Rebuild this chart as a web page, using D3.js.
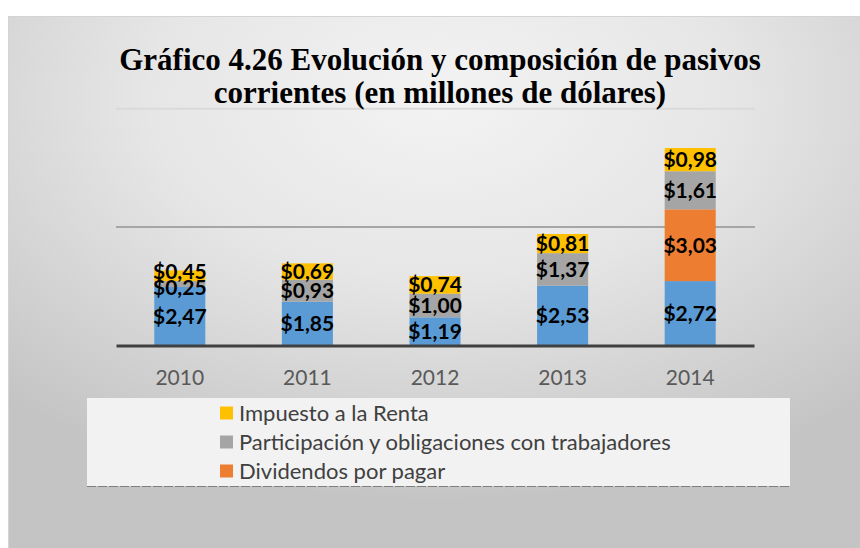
<!DOCTYPE html>
<html>
<head>
<meta charset="utf-8">
<script src="https://cdn.jsdelivr.net/npm/d3@7"></script>
<style>
	html, body { margin: 0; padding: 0; background: #fff; }
	svg { display: block; }
</style>
</head>
<body>
<svg id="chart" width="860" height="548"></svg>
<script>
"use strict";

// --- data (millones de dólares) ---
var years = ["2010", "2011", "2012", "2013", "2014"];
var cuentasPorPagar = [2.47, 1.85, 1.19, 2.53, 2.72];
var dividendos = [0, 0, 0, 0, 3.03];
var participacion = [0.25, 0.93, 1.00, 1.37, 1.61];
var impuesto = [0.45, 0.69, 0.74, 0.81, 0.98];
var gridValues = [5, 10];
var titleLines = ["Gráfico 4.26 Evolución y composición de pasivos",
	"corrientes (en millones de dólares)"];

var seriesNames = ["Cuentas por pagar", "Dividendos por pagar",
	"Participación y obligaciones con trabajadores", "Impuesto a la Renta"];
var seriesColors = ["#5b9bd5", "#ed7d31", "#a5a5a5", "#ffc000"];
// only these show in the (clipped) legend box
var legendNames = ["Impuesto a la Renta",
	"Participación y obligaciones con trabajadores", "Dividendos por pagar"];

var FONT = "Lato, 'Open Sans', sans-serif";
var svg = d3.select("#chart");

/**
 * Background panel with the radial grey fill
 */
var drawBackground = function () {
	var grad = svg.append("defs").append("radialGradient")
		.attr("id", "bg")
		.attr("cx", "50%").attr("cy", "15%").attr("r", "75%");
	grad.append("stop").attr("offset", "0%").attr("stop-color", "#f3f3f3");
	grad.append("stop").attr("offset", "45%").attr("stop-color", "#e6e6e6");
	grad.append("stop").attr("offset", "100%").attr("stop-color", "#c4c4c4");

	svg.append("rect")
		.attr("x", 8.5).attr("y", 16.5)
		.attr("width", 860).attr("height", 540)
		.attr("fill", "url(#bg)")
		.attr("stroke", "#d4d4d4");
};

var x = d3.scaleBand()
	.domain(years)
	.range([116, 754])
	.paddingInner(0.6)
	.paddingOuter(0.3);

var y = d3.scaleLinear()
	.domain([0, 10])
	.range([345.5, 108.7]);

var drawGrid = function () {
	svg.append("g").selectAll("line")
		.data(gridValues)
		.join("line")
		.attr("x1", 116).attr("x2", 755)
		.attr("y1", function (d) { return y(d); })
		.attr("y2", function (d) { return y(d); })
		.attr("stroke", function (d) { return d === 10 ? "#dadada" : "#a6a6a6"; })
		.attr("stroke-width", 2);
};

var drawBars = function () {
	var table = years.map(function (yr, i) {
		return {
			year: yr,
			s0: cuentasPorPagar[i],
			s1: dividendos[i],
			s2: participacion[i],
			s3: impuesto[i]
		};
	});
	var stack = d3.stack().keys(["s0", "s1", "s2", "s3"]);
	var layers = stack(table);

	var g = svg.append("g");
	var labels = [];
	layers.forEach(function (layer, li) {
		var segs = layer.filter(function (d) { return d[1] - d[0] > 0; });
		g.append("g").selectAll("rect")
			.data(segs)
			.join("rect")
			.attr("x", function (d) { return x(d.data.year); })
			.attr("width", x.bandwidth())
			.attr("y", function (d) { return y(d[1]); })
			.attr("height", function (d) { return y(d[0]) - y(d[1]); })
			.attr("fill", seriesColors[li]);
		segs.forEach(function (d) {
			labels.push({
				year: d.data.year,
				value: d[1] - d[0],
				cy: (y(d[0]) + y(d[1])) / 2
			});
		});
	});

	// push apart labels of thin segments in the same bar
	var minGap = 16;
	years.forEach(function (yr) {
		var col = labels.filter(function (l) { return l.year === yr; })
			.sort(function (a, b) { return b.cy - a.cy; });
		for (var i = 1; i < col.length; i++) {
			var gap = col[i - 1].cy - col[i].cy;
			if (gap < minGap) {
				var shift = (minGap - gap) / 2;
				col[i - 1].cy += shift;
				col[i].cy -= shift;
			}
		}
	});

	g.append("g").selectAll("text")
		.data(labels)
		.join("text")
		.attr("x", function (d) { return x(d.year) + x.bandwidth() / 2; })
		.attr("y", function (d) { return d.cy; })
		.attr("dy", "0.36em")
		.attr("text-anchor", "middle")
		.attr("font-family", FONT)
		.attr("font-weight", "bold")
		.attr("font-size", 21)
		.attr("fill", "#000")
		.text(function (d) {
			return "$" + d.value.toFixed(2).replace(".", ",");
		});
};

var drawAxis = function () {
	var axis = svg.append("g")
		.attr("transform", "translate(0," + y(0) + ")")
		.call(d3.axisBottom(x).tickSize(0).tickPadding(25));
	axis.select(".domain")
		.attr("stroke", "#404040")
		.attr("stroke-width", 3);
	axis.selectAll("text")
		.attr("font-family", FONT)
		.attr("font-size", 21)
		.attr("fill", "#595959");
};

var drawTitle = function () {
	svg.append("g").selectAll("text")
		.data(titleLines)
		.join("text")
		.attr("x", 440)
		.attr("y", function (d, i) { return 70 + i * 33; })
		.attr("text-anchor", "middle")
		.attr("font-family", "'Liberation Serif', 'Times New Roman', serif")
		.attr("font-weight", "bold")
		.attr("font-size", 31)
		.attr("fill", "#000")
		.text(function (d) { return d; });
};

var drawLegend = function () {
	var box = svg.append("g");
	box.append("rect")
		.attr("x", 87).attr("y", 398)
		.attr("width", 703).attr("height", 88)
		.attr("fill", "#f2f2f2");
	box.append("line")
		.attr("x1", 87).attr("x2", 790)
		.attr("y1", 486.5).attr("y2", 486.5)
		.attr("stroke", "#7f7f7f")
		.attr("stroke-dasharray", "9,2");

	var item = box.selectAll("g.item")
		.data(legendNames)
		.join("g")
		.attr("class", "item")
		.attr("transform", function (d, i) { return "translate(220," + (413 + i * 29) + ")"; });
	item.append("rect")
		.attr("x", 0).attr("y", -6.5)
		.attr("width", 13).attr("height", 13)
		.attr("fill", function (d) { return seriesColors[seriesNames.indexOf(d)]; });
	item.append("text")
		.attr("x", 19)
		.attr("dy", "0.36em")
		.attr("font-family", FONT)
		.attr("font-size", 22)
		.attr("fill", "#404040")
		.text(function (d) { return d; });
};

drawBackground();
drawGrid();
drawBars();
drawAxis();
drawTitle();
drawLegend();
</script>
</body>
</html>
